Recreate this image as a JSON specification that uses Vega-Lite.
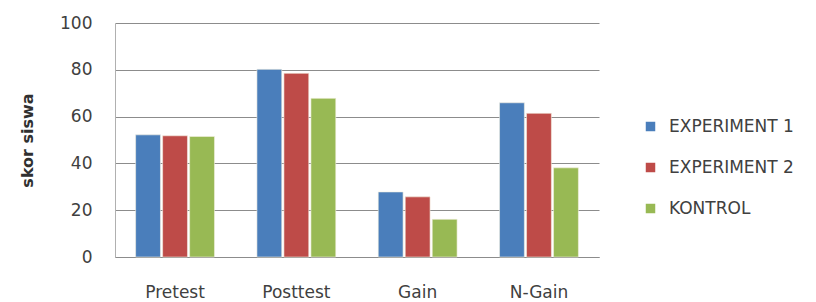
{
  "$schema": "https://vega.github.io/schema/vega-lite/v6.json",
  "autosize": "none",
  "padding": {"left": 115, "top": 23, "right": 217, "bottom": 45},
  "width": 484,
  "height": 234,
  "background": "white",
  "config": {"view": {"stroke": null}},
  "data": {"values": [
    {"kategori": "Pretest", "kelas": "EXPERIMENT 1", "skor": 52.2},
    {"kategori": "Pretest", "kelas": "EXPERIMENT 2", "skor": 51.8},
    {"kategori": "Pretest", "kelas": "KONTROL", "skor": 51.5},
    {"kategori": "Posttest", "kelas": "EXPERIMENT 1", "skor": 80.2},
    {"kategori": "Posttest", "kelas": "EXPERIMENT 2", "skor": 78.5},
    {"kategori": "Posttest", "kelas": "KONTROL", "skor": 67.8},
    {"kategori": "Gain", "kelas": "EXPERIMENT 1", "skor": 27.8},
    {"kategori": "Gain", "kelas": "EXPERIMENT 2", "skor": 25.7},
    {"kategori": "Gain", "kelas": "KONTROL", "skor": 16.1},
    {"kategori": "N-Gain", "kelas": "EXPERIMENT 1", "skor": 65.9},
    {"kategori": "N-Gain", "kelas": "EXPERIMENT 2", "skor": 61.4},
    {"kategori": "N-Gain", "kelas": "KONTROL", "skor": 38.1}
  ]},
  "mark": {"type": "bar", "stroke": "#f4f0e0", "strokeWidth": 0.6},
  "encoding": {
    "x": {
      "field": "kategori", "type": "nominal",
      "sort": ["Pretest", "Posttest", "Gain", "N-Gain"],
      "scale": {"paddingInner": 0.35, "paddingOuter": 0.17},
      "axis": {"title": null, "labelAngle": 0, "ticks": false, "domainColor": "#8c8c8c", "labelFont": "DejaVu Sans", "labelFontSize": 17, "labelColor": "#404040", "labelPadding": 27}
    },
    "xOffset": {
      "field": "kelas", "type": "nominal",
      "scale": {"paddingInner": 0.08}
    },
    "y": {
      "field": "skor", "type": "quantitative",
      "scale": {"domain": [0, 100]},
      "axis": {"title": "skor siswa", "values": [0, 20, 40, 60, 80, 100], "ticks": false, "domainColor": "#b0b0b0", "gridColor": "#8c8c8c", "labelFont": "DejaVu Sans", "labelFontSize": 17, "labelColor": "#404040", "labelPadding": 23, "titleFont": "DejaVu Sans", "titleFontSize": 16, "titleFontWeight": 600, "titleColor": "#303030", "titlePadding": 24}
    },
    "color": {
      "field": "kelas", "type": "nominal",
      "scale": {"domain": ["EXPERIMENT 1", "EXPERIMENT 2", "KONTROL"], "range": ["#4a7ebb", "#be4b48", "#98b954"]},
      "legend": {"title": null, "orient": "none", "legendX": 527, "legendY": 95, "symbolType": "square", "symbolSize": 90, "symbolStrokeWidth": 0, "labelFont": "DejaVu Sans", "labelFontSize": 17, "labelColor": "#404040", "rowPadding": 23, "labelOffset": 10}
    }
  }
}
